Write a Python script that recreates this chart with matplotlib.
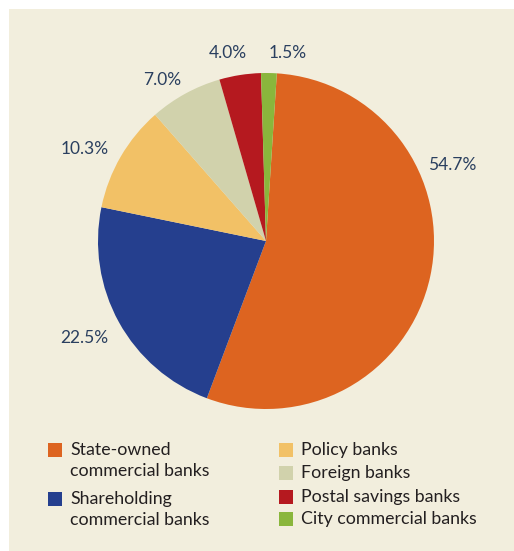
import matplotlib
matplotlib.use("Agg")
import matplotlib.pyplot as plt
from matplotlib.patches import Rectangle

# ---------------------------------------------------------------------------
# Data
# ---------------------------------------------------------------------------
categories = [
    "State-owned\ncommercial banks",
    "Shareholding\ncommercial banks",
    "Policy banks",
    "Foreign banks",
    "Postal savings banks",
    "City commercial banks",
]
shares = [54.7, 22.5, 10.3, 7.0, 4.0, 1.5]
colors = ["#dd6420", "#253f8e", "#f2c166", "#d1d2ac", "#b5191f", "#8ab63c"]

# label anchor positions (pie units, radius = 1)
label_pos = [(1.11, 0.45), (-1.08, -0.58), (-1.08, 0.55),
             (-0.62, 0.96), (-0.23, 1.12), (0.13, 1.12)]

BG = "#f2eedd"
LABEL_COLOR = "#2a3f5f"
TEXT_COLOR = "#231f20"
FONT = ["Lato", "DejaVu Sans"]

W, H = 514, 551
fig = plt.figure(figsize=(W / 100, H / 100), dpi=100)
fig.patch.set_facecolor("white")

# beige panel
fig.patches.append(Rectangle((9 / W, 0), 1 - 9 / W, 1 - 9 / H,
                             transform=fig.transFigure, facecolor=BG,
                             edgecolor="none", zorder=0))

ax = fig.add_axes([0, 0, 1, 1])
ax.set_zorder(1)
ax.set_facecolor("none")

ax.pie(shares, colors=colors, startangle=86.3, counterclock=False,
       radius=1, wedgeprops=dict(edgecolor="none"))

# pie() resets limits, so fix them afterwards
cx, cy, r = 266, 241, 168          # pie centre / radius in pixels (from top)
ax.set_xlim(-cx / r, (W - cx) / r)
ax.set_ylim(-(H - cy) / r, cy / r)
ax.set_aspect("equal")
ax.axis("off")

for val, (x, y) in zip(shares, label_pos):
    ax.text(x, y, f"{val:.1f}%", ha="center", va="center", fontsize=12.5,
            color=LABEL_COLOR, family=FONT)

# ---------------------------------------------------------------------------
# Legend (two columns)
# ---------------------------------------------------------------------------
def px(x, y):
    return x / W, 1 - y / H

left_rows = [450, 499]
right_rows = [450, 473, 497, 519]
slots = [(48, y) for y in left_rows] + [(279, y) for y in right_rows]
sq = 14
for (x, y), name, col in zip(slots, categories, colors):
    fx, fy = px(x, y + sq / 2)
    fig.patches.append(Rectangle((fx, fy), sq / W, sq / H,
                                 transform=fig.transFigure, facecolor=col,
                                 edgecolor="none", zorder=2))
    tx, ty = px(x + 22, y - 8)
    fig.text(tx, ty, name, ha="left", va="top", fontsize=12.8,
             color=TEXT_COLOR, family=FONT, linespacing=1.35)

fig.savefig("out.png", dpi=100, facecolor=fig.get_facecolor())
